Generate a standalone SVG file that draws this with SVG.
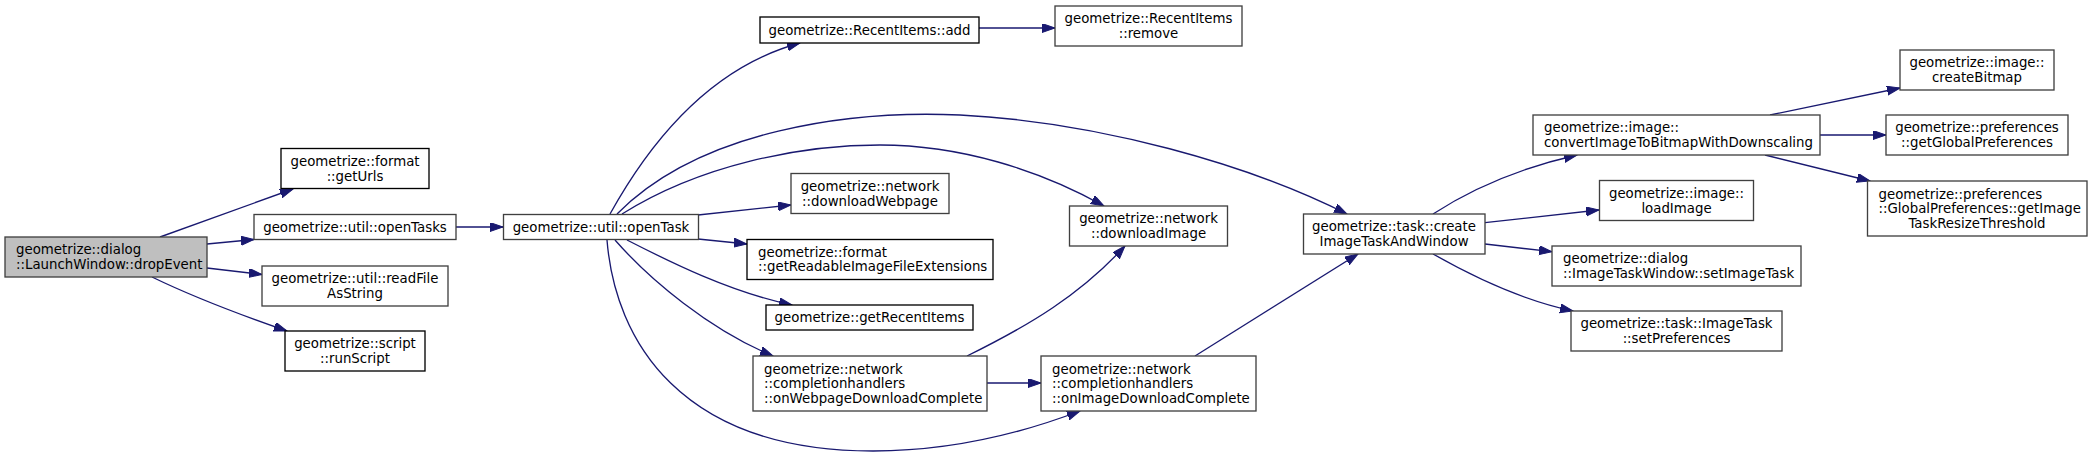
<svg xmlns="http://www.w3.org/2000/svg" width="2092" height="457" viewBox="0 0 2092 457">
<style>
text{font-family:"DejaVu Sans","Liberation Sans",sans-serif;font-size:13.33px;fill:#000}
.c{text-anchor:middle}
.l{text-anchor:start}
rect{fill:#fff;stroke-width:1.33}
.doc{stroke:#000}
.und{stroke:#404040}
.root{fill:#bfbfbf;stroke:#404040}
.e{fill:none;stroke:#191970;stroke-width:1.33;marker-end:url(#ah)}
</style>
<defs>
<marker id="ah" markerUnits="userSpaceOnUse" markerWidth="14" markerHeight="10" refX="13" refY="4.5" orient="auto" viewBox="0 0 14 10">
<path d="M0,0 L13,4.5 L0,9 Z" fill="#191970" stroke="#191970" stroke-width="1"/>
</marker>
</defs>
<rect width="2092" height="457" fill="#fff"/>
<g id="edges">
<path class="e" d="M160,237 L293,189"/>
<path class="e" d="M207,244 L254,239.5"/>
<path class="e" d="M207,268 L262,274.5"/>
<path class="e" d="M152,277 C185,293 235,313 287,331"/>
<path class="e" d="M456,227 L503,227"/>
<path class="e" d="M610,214 C640,160 700,70 800,43"/>
<path class="e" d="M617,214 C700,130 850,110 960,115 C1100,122 1250,165 1347,214"/>
<path class="e" d="M622,214 C700,165 800,145 880,145 C960,145 1040,170 1104,206"/>
<path class="e" d="M698,215 L791,205"/>
<path class="e" d="M698,239 L747,244"/>
<path class="e" d="M627,240 C670,262 730,292 792,305"/>
<path class="e" d="M615,240 C650,280 710,330 773,356"/>
<path class="e" d="M607,240 C615,340 680,451 873,451 C960,451 1030,430 1080,411"/>
<path class="e" d="M979,28 L1055,28"/>
<path class="e" d="M987,383 L1041,383"/>
<path class="e" d="M967,356 C1030,325 1080,295 1125,246"/>
<path class="e" d="M1195,356 L1358,254"/>
<path class="e" d="M1433,214 C1470,190 1520,168 1577,155"/>
<path class="e" d="M1485,222.7 L1599,210"/>
<path class="e" d="M1485,244 L1552,251.7"/>
<path class="e" d="M1433,254 C1470,275 1520,300 1573,311"/>
<path class="e" d="M1770,115 L1900,88"/>
<path class="e" d="M1820,135 L1886,135"/>
<path class="e" d="M1765,155 L1870,181"/>
</g>
<g id="n_dropEvent"><rect class="root" x="5" y="237" width="202" height="40"/>
<text class="l" x="16" y="254.4">geometrize::dialog</text><text class="l" x="16" y="269">::LaunchWindow::dropEvent</text></g>
<g id="n_getUrls"><rect class="doc" x="281" y="148.5" width="148" height="40"/>
<text class="c" x="355" y="166">geometrize::format</text><text class="c" x="355" y="180.6">::getUrls</text></g>
<g id="n_openTasks"><rect class="und" x="254" y="214.5" width="202" height="25"/>
<text class="c" x="355" y="231.7">geometrize::util::openTasks</text></g>
<g id="n_readFile"><rect class="und" x="262" y="266" width="186" height="40"/>
<text class="c" x="355" y="283.4">geometrize::util::readFile</text><text class="c" x="355" y="298">AsString</text></g>
<g id="n_runScript"><rect class="doc" x="285" y="331" width="140" height="40"/>
<text class="c" x="355" y="348.4">geometrize::script</text><text class="c" x="355" y="363">::runScript</text></g>
<g id="n_openTask"><rect class="und" x="503.5" y="214.5" width="195" height="25"/>
<text class="c" x="601" y="231.7">geometrize::util::openTask</text></g>
<g id="n_add"><rect class="doc" x="760" y="17" width="219" height="26"/>
<text class="c" x="869.5" y="34.7">geometrize::RecentItems::add</text></g>
<g id="n_downloadWebpage"><rect class="und" x="791" y="173.5" width="158" height="40"/>
<text class="c" x="870" y="191">geometrize::network</text><text class="c" x="870" y="205.5">::downloadWebpage</text></g>
<g id="n_getReadable"><rect class="doc" x="747" y="239.5" width="246" height="40"/>
<text class="l" x="758" y="256.6">geometrize::format</text><text class="l" x="758" y="271.2">::getReadableImageFileExtensions</text></g>
<g id="n_getRecentItems"><rect class="doc" x="766" y="305" width="207" height="25"/>
<text class="c" x="869.5" y="322">geometrize::getRecentItems</text></g>
<g id="n_onWebpage"><rect class="und" x="753" y="356" width="234" height="55"/>
<text class="l" x="764" y="373.5">geometrize::network</text><text class="l" x="764" y="388.2">::completionhandlers</text><text class="l" x="764" y="402.9">::onWebpageDownloadComplete</text></g>
<g id="n_remove"><rect class="und" x="1055" y="6" width="187" height="40"/>
<text class="c" x="1148.5" y="23.4">geometrize::RecentItems</text><text class="c" x="1148.5" y="38">::remove</text></g>
<g id="n_downloadImage"><rect class="und" x="1069.5" y="206" width="158" height="40"/>
<text class="c" x="1148.5" y="223.4">geometrize::network</text><text class="c" x="1148.5" y="238">::downloadImage</text></g>
<g id="n_onImage"><rect class="und" x="1041" y="356" width="215" height="55"/>
<text class="l" x="1052" y="373.5">geometrize::network</text><text class="l" x="1052" y="388.2">::completionhandlers</text><text class="l" x="1052" y="402.9">::onImageDownloadComplete</text></g>
<g id="n_createImageTask"><rect class="und" x="1303.5" y="214" width="181.5" height="40"/>
<text class="c" x="1394" y="231.4">geometrize::task::create</text><text class="c" x="1394" y="246">ImageTaskAndWindow</text></g>
<g id="n_convertImage"><rect class="und" x="1533" y="115" width="287" height="40"/>
<text class="l" x="1544" y="132.4">geometrize::image::</text><text class="l" x="1544" y="147">convertImageToBitmapWithDownscaling</text></g>
<g id="n_loadImage"><rect class="und" x="1599.5" y="180.5" width="154" height="40"/>
<text class="c" x="1676.5" y="197.9">geometrize::image::</text><text class="c" x="1676.5" y="212.5">loadImage</text></g>
<g id="n_setImageTask"><rect class="und" x="1552" y="246" width="249" height="40"/>
<text class="l" x="1563" y="263.4">geometrize::dialog</text><text class="l" x="1563" y="278">::ImageTaskWindow::setImageTask</text></g>
<g id="n_setPreferences"><rect class="und" x="1571" y="311" width="211" height="40"/>
<text class="c" x="1676.5" y="328.4">geometrize::task::ImageTask</text><text class="c" x="1676.5" y="343">::setPreferences</text></g>
<g id="n_createBitmap"><rect class="und" x="1900" y="50" width="154" height="40"/>
<text class="c" x="1977" y="67.4">geometrize::image::</text><text class="c" x="1977" y="82">createBitmap</text></g>
<g id="n_getGlobalPreferences"><rect class="und" x="1886" y="115" width="182" height="40"/>
<text class="c" x="1977" y="132.4">geometrize::preferences</text><text class="c" x="1977" y="147">::getGlobalPreferences</text></g>
<g id="n_threshold"><rect class="und" x="1867.5" y="181" width="219.5" height="55"/>
<text class="l" x="1878.5" y="198.5">geometrize::preferences</text><text class="l" x="1878.5" y="213.2">::GlobalPreferences::getImage</text><text class="c" x="1977" y="227.9">TaskResizeThreshold</text></g>
</svg>
